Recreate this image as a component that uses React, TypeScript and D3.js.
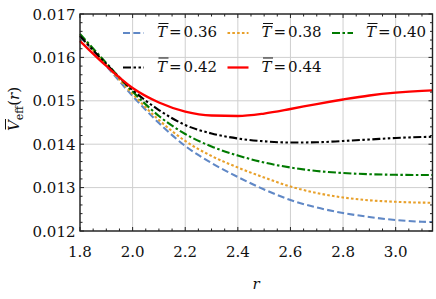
import * as d3 from 'd3';

const rs = [1.8, 1.9, 2.0, 2.1, 2.2, 2.3, 2.4, 2.5, 2.6, 2.7, 2.8, 2.9, 3.0, 3.1, 3.14];

const v036 = [0.016493, 0.015802, 0.015111, 0.014488, 0.013959, 0.013567, 0.013244, 0.012956, 0.012714, 0.012541, 0.012415, 0.012323, 0.012253, 0.012214, 0.012207];
const v038 = [0.016516, 0.015825, 0.015157, 0.014558, 0.014074, 0.013728, 0.013463, 0.013233, 0.013025, 0.012876, 0.012772, 0.012707, 0.012673, 0.012654, 0.012652];
const v040 = [0.016539, 0.015871, 0.015214, 0.01465, 0.014235, 0.013947, 0.01374, 0.013578, 0.013463, 0.013382, 0.013336, 0.013309, 0.013295, 0.01329, 0.01329];
const v042 = [0.016493, 0.015848, 0.015249, 0.014788, 0.014442, 0.014247, 0.014131, 0.014067, 0.014039, 0.014044, 0.014074, 0.014108, 0.014143, 0.014166, 0.014171];
const v044 = [0.016378, 0.015802, 0.015295, 0.014961, 0.014753, 0.014661, 0.01465, 0.014707, 0.014811, 0.014926, 0.01503, 0.015122, 0.015187, 0.01523, 0.01524];

const xTicks = [1.8, 2.0, 2.2, 2.4, 2.6, 2.8, 3.0];
const yTicks = [0.012, 0.013, 0.014, 0.015, 0.016, 0.017];

const series = [
  { label: '0.36', values: v036, color: '#6088c6', dash: '7,3.3', width: 2.1 },
  { label: '0.38', values: v038, color: '#e8a02a', dash: '2.6,2.2', width: 2.1 },
  { label: '0.40', values: v040, color: '#007a00', dash: '8,2.5,2.5,2.5', width: 2.1 },
  { label: '0.42', values: v042, color: '#000000', dash: '8,2.5,2.5,2.5,2.5,2.5', width: 2.1 },
  { label: '0.44', values: v044, color: '#ff0000', dash: null, width: 2.3 },
];

const W = 436;
const H = 299;
const left = 80, right = 432.5, top = 14, bottom = 231;
const font = 'DejaVu Serif';
const fs = 15;

export default function App() {
  const x = d3.scaleLinear().domain([1.8, 3.14]).range([left, right]);
  const y = d3.scaleLinear().domain([0.012, 0.017]).range([bottom, top]);

  const line = d3.line<number>()
    .x((_, i) => x(rs[i]))
    .y((d) => y(d))
    .curve(d3.curveMonotoneX);

  const xMinor = d3.range(1.8, 3.14, 0.05).filter((t) => Math.abs(t * 5 - Math.round(t * 5)) > 1e-6);
  const yMinor = d3.range(0.012, 0.017, 0.0002).filter((t) => Math.abs(t * 1000 - Math.round(t * 1000)) > 1e-6);

  // legend layout: 3 columns, 2 rows
  const legendCols = [123, 227.5, 332];
  const legendRows = [33, 67.5];

  return (
    <svg width={W} height={H} style={{ position: 'absolute', left: 0, top: 0 }} fontFamily={font}>
      <rect width={W} height={H} fill="#fff" />
      {/* grid */}
      <g stroke="#cfcfcf" strokeWidth={1}>
        {xTicks.map((t) => (
          <line key={'gx' + t} x1={x(t)} x2={x(t)} y1={top} y2={bottom} />
        ))}
        {yTicks.map((t) => (
          <line key={'gy' + t} x1={left} x2={right} y1={y(t)} y2={y(t)} />
        ))}
      </g>

      {/* curves */}
      <g fill="none">
        {series.map((s) => (
          <path
            key={s.label}
            d={line(s.values) || ''}
            stroke={s.color}
            strokeWidth={s.width}
            strokeDasharray={s.dash || undefined}
          />
        ))}
      </g>

      {/* ticks, inward on all sides */}
      <g stroke="#222" strokeWidth={1}>
        {xTicks.map((t) => (
          <g key={'tx' + t}>
            <line x1={x(t)} x2={x(t)} y1={bottom} y2={bottom - 4} />
            <line x1={x(t)} x2={x(t)} y1={top} y2={top + 4} />
          </g>
        ))}
        {xMinor.map((t) => (
          <g key={'mx' + t}>
            <line x1={x(t)} x2={x(t)} y1={bottom} y2={bottom - 2.5} />
            <line x1={x(t)} x2={x(t)} y1={top} y2={top + 2.5} />
          </g>
        ))}
        {yTicks.map((t) => (
          <g key={'ty' + t}>
            <line x1={left} x2={left + 4} y1={y(t)} y2={y(t)} />
            <line x1={right} x2={right - 4} y1={y(t)} y2={y(t)} />
          </g>
        ))}
        {yMinor.map((t) => (
          <g key={'my' + t}>
            <line x1={left} x2={left + 2.5} y1={y(t)} y2={y(t)} />
            <line x1={right} x2={right - 2.5} y1={y(t)} y2={y(t)} />
          </g>
        ))}
      </g>
      <rect x={left} y={top} width={right - left} height={bottom - top} fill="none" stroke="#222" strokeWidth={1.4} />

      {/* tick labels */}
      <g fontSize={fs} fill="#111">
        {xTicks.map((t) => (
          <text key={'lx' + t} x={x(t)} y={256.5} textAnchor="middle">{t.toFixed(1)}</text>
        ))}
        {yTicks.map((t) => (
          <text key={'ly' + t} x={75.5} y={y(t) + 5.5} textAnchor="end">{t.toFixed(3)}</text>
        ))}
      </g>

      {/* axis labels */}
      <text x={256} y={289} fontSize={fs} fontStyle="italic" textAnchor="middle" fill="#111">r</text>
      <g transform="translate(19,131) rotate(-90)" fill="#111">
        <text x={0} y={0} fontSize={fs}>
          <tspan fontStyle="italic">V</tspan>
          <tspan fontSize={11} dy={3.5}>eff</tspan>
          <tspan dy={-3.5}>(</tspan>
          <tspan fontStyle="italic">r</tspan>
          <tspan>)</tspan>
        </text>
        <line x1={1.5} x2={12} y1={-13.5} y2={-13.5} stroke="#111" strokeWidth={1} />
      </g>

      {/* legend */}
      {series.map((s, i) => {
        const cx = legendCols[i % 3];
        const cy = legendRows[Math.floor(i / 3)];
        const tx = cx + 34;
        return (
          <g key={'lg' + s.label}>
            <line
              x1={cx}
              x2={cx + 21}
              y1={cy}
              y2={cy}
              stroke={s.color}
              strokeWidth={s.width}
              strokeDasharray={s.dash || undefined}
            />
            <text x={tx} y={cy + 4.2} fontSize={fs} fill="#111">
              <tspan fontStyle="italic">T</tspan>
              <tspan dx={2}>=</tspan>
              <tspan dx={2}>0</tspan>
              <tspan>{s.label.slice(1)}</tspan>
            </text>
            <line x1={tx + 1.5} x2={tx + 11.5} y1={cy - 9.5} y2={cy - 9.5} stroke="#111" strokeWidth={1} />
          </g>
        );
      })}
    </svg>
  );
}
